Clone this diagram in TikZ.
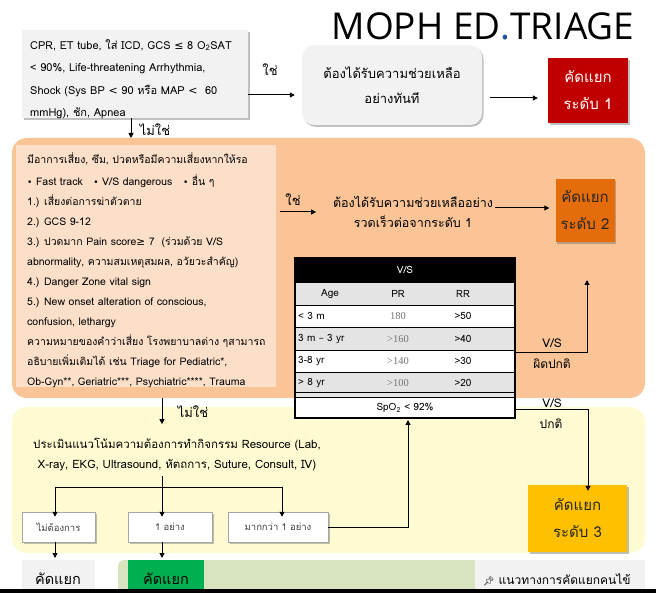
\documentclass[tikz,border=0pt]{standalone}
\usepackage{fontspec}
\setmainfont{Loma}[Script=Thai]
\newfontfamily\symf{DejaVu Sans}
\newfontfamily\titlef{Open Sans}
\newfontfamily\serf{Liberation Serif}
\newfontfamily\emojif{Noto Emoji}
\usetikzlibrary{shadows,arrows.meta}
\definecolor{orangebg}{HTML}{FAC497}
\definecolor{innerbg}{HTML}{FCDFC8}
\definecolor{yellowbg}{HTML}{FEFBD2}
\definecolor{lgray}{HTML}{F2F2F2}
\definecolor{tgray}{HTML}{E4E4E4}
\definecolor{lvone}{HTML}{C00000}
\definecolor{lvtwo}{HTML}{E46C0A}
\definecolor{lvthree}{HTML}{FFC000}
\definecolor{greenpanel}{HTML}{D7E4BD}
\definecolor{greenbox}{HTML}{00B050}
\definecolor{dotblue}{HTML}{1F4E9F}
\begin{document}
\begin{tikzpicture}[x=1pt,y=-1pt,
  arr/.style={-{Triangle[length=5pt,width=5pt]}, line width=1pt},
  lbl/.style={font=\fontsize{13}{15}\selectfont, inner sep=0pt},
  shad/.style={drop shadow={shadow xshift=1.5pt,shadow yshift=-1.8pt,opacity=0.35,fill=black!70}},
  lvbox/.style={shad, inner sep=0pt, align=center, font=\fontsize{15}{27}\selectfont},
  smallbox/.style={shad, draw=black!35, line width=0.5pt, fill=white, inner sep=0pt, text=black!75, font=\fontsize{9.5}{11}\selectfont, minimum height=30pt},
  cell/.style={inner sep=0pt, font=\fontsize{10}{12}\selectfont},
  pr/.style={cell, font=\fontsize{10.5}{12}\serf, text=black!55}
]
\useasboundingbox (0,0) rectangle (656,593);
\fill[white] (0,0) rectangle (656,593);

% title
\node[inner sep=0pt, font=\fontsize{37}{40}\titlef] (title) at (483,26) {MOPH ED\textcolor{dotblue}{.}TRIAGE};

% level 1 row
\node[shad, fill=lgray, minimum width=226pt, minimum height=88pt, inner sep=0pt] (q1) at (135,74) {};
\node[anchor=north west, inner sep=0pt, align=left, font=\fontsize{11}{22.5}\selectfont] (q1t) at (30,39)
 {CPR, ET tube, ใส่ ICD, GCS {\symf ≤} 8 O\textsubscript{2}SAT\\
  < 90\%, Life-threatening Arrhythmia,\\
  Shock (Sys BP {\symf <} 90 หรือ MAP {\symf <}\ \ 60\\
  mmHg), ชัก, Apnea};
\node[shad, fill=lgray, rounded corners=12pt, minimum width=180pt, minimum height=80pt, inner sep=0pt, align=center, font=\fontsize{13}{25}\selectfont] (b2) at (392,85)
 {ต้องได้รับความช่วยเหลือ\\อย่างทันที};
\node[lvbox, fill=lvone, text=white, minimum width=80pt, minimum height=65pt] (l1) at (588,90.5) {คัดแยก\\ระดับ 1};
\coordinate (y95) at (0,95);
\coordinate (y98) at (0,98);
\draw[arr] (q1.east |- y95) -- ([xshift=-7pt]b2.west |- y95);
\node[lbl] (yes1) at (270,70) {ใช่};
\draw[arr] ([xshift=8pt]b2.east |- y98) -- ([xshift=-10pt]l1.west |- y98);

% no 1
\coordinate (x131) at (131,0);
\coordinate (y138) at (0,138);
\draw[arr] (q1.south -| x131) -- (x131 |- y138);
\node[lbl] (no1) at (155,130) {ไม่ใช่};

% section backgrounds
\node[fill=orangebg, rounded corners=15pt, minimum width=633pt, minimum height=260pt, inner sep=0pt] (obg) at (328.5,268) {};
\node[fill=yellowbg, rounded corners=15pt, minimum width=633pt, minimum height=146pt, inner sep=0pt] (ybg) at (328.5,480) {};

% orange section
\node[fill=innerbg, minimum width=260pt, minimum height=242pt, inner sep=0pt] (inner) at (146,266) {};
\node[anchor=north west, inner sep=0pt, align=left, font=\fontsize{10.5}{20}\selectfont] (innert) at (27,153)
 {มีอาการเสี่ยง, ซึม, ปวดหรือมีความเสี่ยงหากให้รอ\\[2pt]
  {\symf\small •} Fast track\ \ \ {\symf\small •} V/S dangerous\ \ \ {\symf\small •} อื่น ๆ\\
  1.) เสี่ยงต่อการฆ่าตัวตาย\\
  2.) GCS 9-12\\
  3.) ปวดมาก Pain score{\symf ≥} 7\ \ (ร่วมด้วย V/S\\
  abnormality, ความสมเหตุสมผล, อวัยวะสำคัญ)\\
  4.) Danger Zone vital sign\\
  5.) New onset alteration of conscious,\\
  confusion, lethargy\\
  ความหมายของคำว่าเสี่ยง โรงพยาบาลต่าง ๆสามารถ\\
  อธิบายเพิ่มเติมได้ เช่น Triage for Pediatric*,\\
  Ob-Gyn**, Geriatric***, Psychiatric****, Trauma};
\node[lbl] (yes2) at (293,200) {ใช่};
\node[inner sep=0pt, align=center, font=\fontsize{12.5}{20}\selectfont] (l2t) at (413,212)
 {ต้องได้รับความช่วยเหลืออย่าง\\รวดเร็วต่อจากระดับ 1};
\node[lvbox, fill=lvtwo, text=black!85, minimum width=59pt, minimum height=63pt] (l2) at (585,210.5) {คัดแยก\\ระดับ 2};
\coordinate (y212) at (0,212);
\coordinate (y208) at (0,208);
\draw[arr] ([xshift=4pt]inner.east |- y212) -- ([xshift=40pt]inner.east |- y212);
\draw[arr] ([xshift=2pt]l2t.east |- y208) -- ([xshift=-6pt]l2.west |- y208);

% table
\fill[black] (295,258) rectangle (515,282);
\fill[tgray] (295,282) rectangle (515,305);
\fill[white] (295,305) rectangle (515,327);
\fill[tgray] (295,327) rectangle (515,350);
\fill[white] (295,350) rectangle (515,372);
\fill[tgray] (295,372) rectangle (515,397);
\fill[white] (295,397) rectangle (515,418);
\draw[line width=0.7pt] (295,282) -- (515,282) (295,305) -- (515,305) (295,327) -- (515,327)
  (295,350) -- (515,350) (295,372) -- (515,372);
\draw[line width=1pt] (295,393) -- (515,393) (295,397.5) -- (515,397.5);
\draw[line width=1.3pt] (295,258) rectangle (515,418);
\node[cell, text=white] (th) at (405,270) {V/S};
\node[cell] (tage) at (330,294) {Age};
\node[cell] (tpr) at (398,294) {PR};
\node[cell] (trr) at (463,294) {RR};
\node[cell, anchor=west] (ta1) at (298,316) {< 3 m};
\node[pr] (tp1) at (398,316) {180};
\node[cell] (tr1) at (463,316) {>50};
\node[cell, anchor=west] (ta2) at (298,339) {3 m {\symf –} 3 yr};
\node[pr] (tp2) at (398,339) {>160};
\node[cell] (tr2) at (463,339) {>40};
\node[cell, anchor=west] (ta3) at (298,361) {3-8 yr};
\node[pr] (tp3) at (398,361) {>140};
\node[cell] (tr3) at (463,361) {>30};
\node[cell, anchor=west] (ta4) at (298,383) {> 8 yr};
\node[pr] (tp4) at (398,383) {>100};
\node[cell] (tr4) at (463,383) {>20};
\node[cell] (tspo) at (405,408) {SpO\textsubscript{2} < 92\%};
\coordinate (tabE1) at (515,353);
\coordinate (tabE2) at (515,410);
\coordinate (tabS) at (408,420);
\coordinate (vsab) at (587,280);
\draw[arr] (tabE1) -| (vsab);
\node[lbl, font=\fontsize{12}{14}\selectfont] (vsa1) at (552,343) {V/S};
\node[lbl, font=\fontsize{12}{14}\selectfont] (vsa2) at (552,364) {ผิดปกติ};

% yellow section
\node[lvbox, fill=lvthree, text=black!85, minimum width=99pt, minimum height=67pt] (l3) at (577.5,518.5) {คัดแยก\\ระดับ 3};
\coordinate (vsn) at (588,410);
\draw[arr] (tabE2) -- (vsn) -- ([yshift=-6pt]l3.north -| vsn);
\node[lbl, font=\fontsize{12}{14}\selectfont] (vsn1) at (552,403) {V/S};
\node[lbl, font=\fontsize{12}{14}\selectfont] (vsn2) at (551,424) {ปกติ};

\coordinate (x162) at (162,0);
\draw[arr] (x162 |- obg.south) -- ++(0,26);
\node[lbl] (no2) at (193,412) {ไม่ใช่};
\node[inner sep=0pt, align=center, font=\fontsize{11.5}{20}\selectfont] (res) at (177,455)
 {ประเมินแนวโน้มความต้องการทำกิจกรรม Resource (Lab,\\X-ray, EKG, Ultrasound, หัตถการ, Suture, Consult, IV)};
\node[smallbox, minimum width=73pt] (c0) at (58.5,527) {ไม่ต้องการ};
\node[smallbox, minimum width=84pt] (c1) at (170,527) {1 อย่าง};
\node[smallbox, minimum width=100pt] (c2) at (278,527) {มากกว่า 1 อย่าง};
\coordinate (x55) at (55,0);
\coordinate (x282) at (282,0);
\coordinate (hj) at (162,487);
\draw[line width=1pt] (162,476) -- (hj);
\draw[line width=1pt] (x55 |- hj) -- (x282 |- hj);
\draw[arr] (x55 |- hj) -- ([yshift=-5pt]x55 |- c0.north);
\draw[arr] (hj) -- ([yshift=-5pt]x162 |- c1.north);
\draw[arr] (x282 |- hj) -- ([yshift=-5pt]x282 |- c2.north);
\draw[arr] (c2.east) -| (tabS);

% bottom row
\fill[lgray] (22,560) rectangle (95,593);
\node[inner sep=0pt, font=\fontsize{14.5}{17}\selectfont] (bt0) at (58,579) {คัดแยก};
\fill[greenpanel] (118,593) -- (118,566) arc[start angle=180,end angle=270,radius=6] -- (475,560) -- (475,593) -- cycle;
\fill[greenbox] (128,560) rectangle (204,593);
\node[inner sep=0pt, font=\fontsize{14.5}{17}\selectfont] (bt1) at (166,579) {คัดแยก};
\fill[lgray] (475,560) rectangle (645,593);
\node[inner sep=0pt, font=\fontsize{12}{14}\selectfont, anchor=west] (bt2) at (483,580) {{\emojif\small 📌} แนวทางการคัดแยกคนไข้};
\coordinate (c0b) at (55,558);
\coordinate (c1b) at (162,558);
\draw[arr] (x55 |- c0.south) -- (c0b);
\draw[arr] (x162 |- c1.south) -- (c1b);
\fill[black] (0,589) rectangle (656,593);
\end{tikzpicture}
\end{document}
